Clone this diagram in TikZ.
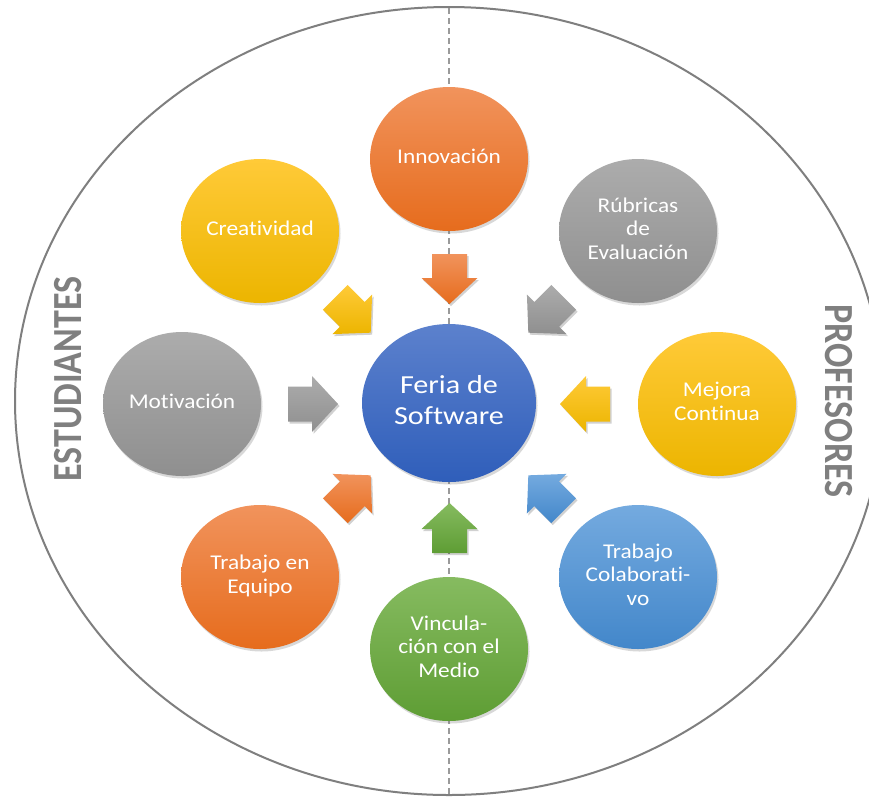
\documentclass[tikz,border=0pt]{standalone}
\usepackage{fontspec}
\setmainfont{Carlito}[Ligatures={NoCommon}]
\usepackage{graphicx}
\usetikzlibrary{shapes.geometric,shadows}
\definecolor{orT}{HTML}{F1935C}
\definecolor{orB}{HTML}{E66C1D}
\definecolor{yeT}{HTML}{FFCA38}
\definecolor{yeB}{HTML}{ECB500}
\definecolor{grT}{HTML}{ACACAC}
\definecolor{grB}{HTML}{8F8F8F}
\definecolor{bdT}{HTML}{5C81CD}
\definecolor{bdB}{HTML}{2F5EBA}
\definecolor{blT}{HTML}{74AADF}
\definecolor{blB}{HTML}{4387CA}
\definecolor{gnT}{HTML}{86BB60}
\definecolor{gnB}{HTML}{5E9D34}
\definecolor{frame}{HTML}{7F7F7F}
\definecolor{dashc}{HTML}{9A9A9A}
\newcommand{\lbl}[1]{\scalebox{1.11}[1]{\begin{tabular}{@{}c@{}}#1\end{tabular}}}
\newcommand{\biglbl}[1]{\scalebox{1.16}[1]{\begin{tabular}{@{}c@{}}#1\end{tabular}}}
\newcommand{\barrow}[5]{%
  \fill[black,opacity=0.18,shift={(#1+1.5,#2+2)},rotate=#3]
    (-25,-17.5) -- (-1,-17.5) -- (-1,-28) -- (25,0) -- (-1,28) -- (-1,17.5) -- (-25,17.5) -- cycle;
  \shade[top color=#4,bottom color=#5,shift={(#1,#2)},rotate=#3]
    (-25,-17.5) -- (-1,-17.5) -- (-1,-28) -- (25,0) -- (-1,28) -- (-1,17.5) -- (-25,17.5) -- cycle;}
\begin{document}
\begin{tikzpicture}[x=1pt,y=-1pt,
  bub/.style={ellipse,minimum width=158pt,minimum height=144pt,inner sep=0pt,
    text=white,font=\fontsize{21}{23.5}\selectfont,
    drop shadow={opacity=0.3,shadow xshift=1.5pt,shadow yshift=-2.5pt}},
  hub/.style={bub,minimum width=174pt,minimum height=158pt,font=\fontsize{26}{31}\selectfont},
  side/.style={text=frame,font=\fontsize{36}{40}\bfseries\selectfont,inner sep=0pt}]
\useasboundingbox (0,0) rectangle (869,796);
\clip (0,0) rectangle (869,796);
\fill[white] (0,0) rectangle (869,796);
% frame
\coordinate (c0) at (449,401);
\draw[frame,line width=2pt] (c0) ellipse [x radius=434,y radius=394];
\coordinate (dtop) at (449,8);
\coordinate (dbot) at (449,796);
\draw[dashc,line width=1.5pt,dash pattern=on 6pt off 4pt] (dtop) -- (dbot);
% side labels
\node[side,rotate=90] (est) at (68,379) {\scalebox{1}[1.15]{ESTUDIANTES}};
\node[side,rotate=-90] (pro) at (839,401) {\scalebox{1}[1.15]{PROFESORES}};
% arrows
\barrow{449.5}{279}{-90}{orT}{orB}
\barrow{449.5}{528}{90}{gnT}{gnB}
\barrow{313}{404}{0}{grT}{grB}
\barrow{585}{404}{180}{yeT}{yeB}
\barrow{353}{315}{-45}{yeT}{yeB}
\barrow{546}{315}{-135}{grT}{grB}
\barrow{353}{493}{45}{orT}{orB}
\barrow{546}{493}{135}{blT}{blB}
% bubbles
\node[hub,top color=bdT,bottom color=bdB] (feria) at (449,403) {\biglbl{Feria de\\Software}};
\node[bub,top color=orT,bottom color=orB] (inno) at (449,159) {\lbl{Innovación}};
\node[bub,top color=yeT,bottom color=yeB] (crea) at (260,231) {\lbl{Creatividad}};
\node[bub,top color=grT,bottom color=grB] (rub) at (638,231) {\lbl{Rúbricas\\de\\Evaluación}};
\node[bub,top color=grT,bottom color=grB] (moti) at (182,404) {\lbl{Motivación}};
\node[bub,top color=yeT,bottom color=yeB] (mejo) at (717,404) {\lbl{Mejora\\Continua}};
\node[bub,top color=orT,bottom color=orB] (equi) at (260,577) {\lbl{Trabajo en\\Equipo}};
\node[bub,top color=gnT,bottom color=gnB] (vinc) at (449,649) {\lbl{Vincula-\\ción con el\\Medio}};
\node[bub,top color=blT,bottom color=blB] (cola) at (638,577) {\lbl{Trabajo\\Colaborati-\\vo}};
\end{tikzpicture}
\end{document}
